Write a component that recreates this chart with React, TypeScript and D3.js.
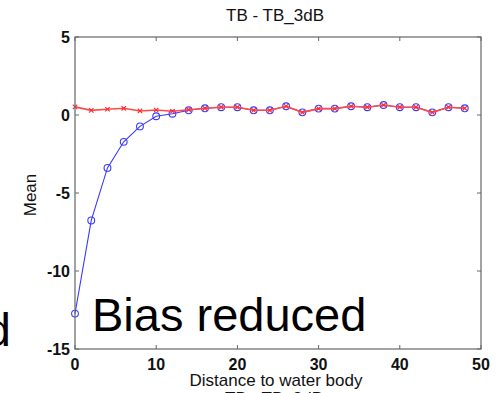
import React from "react";
import * as d3 from "d3";

const distances = [0, 2, 4, 6, 8, 10, 12, 14, 16, 18, 20, 22, 24, 26, 28, 30, 32, 34, 36, 38, 40, 42, 44, 46, 48];
const redMean = [0.52, 0.3, 0.37, 0.43, 0.26, 0.32, 0.24, 0.34, 0.43, 0.5, 0.5, 0.3, 0.3, 0.56, 0.17, 0.41, 0.41, 0.56, 0.5, 0.64, 0.5, 0.5, 0.17, 0.5, 0.43];
const blueMean = [-12.73, -6.76, -3.39, -1.72, -0.73, -0.08, 0.08, 0.3, 0.43, 0.5, 0.5, 0.3, 0.3, 0.56, 0.17, 0.41, 0.41, 0.56, 0.5, 0.64, 0.5, 0.5, 0.17, 0.5, 0.43];
const xTicks = [0, 10, 20, 30, 40, 50];
const yTicks = [5, 0, -5, -10, -15];

const W = 500;
const H = 393;
const left = 75, right = 481, top = 37, bottom = 349;

export default function App() {
  const x = d3.scaleLinear().domain([0, 50]).range([left, right]);
  const y = d3.scaleLinear().domain([-15, 5]).range([bottom, top]);
  const line = d3.line<number>().x((_, i) => x(distances[i])).y((v) => y(v));
  const font = "'Liberation Sans', Arial, Helvetica, sans-serif";
  const axisColor = "#666";
  const tickLen = 4;

  return (
    <svg width={W} height={H} style={{ position: "absolute", left: 0, top: 0, background: "#fff" }} fontFamily={font}>
      <rect x={0} y={0} width={W} height={H} fill="#fff" />
      {/* title */}
      <text x={275} y={21} textAnchor="middle" fontSize={17} fill="#111">TB - TB_3dB</text>

      {/* series: blue */}
      <path d={line(blueMean) || ""} fill="none" stroke="#3a3aff" strokeWidth={1.1} />
      {blueMean.map((v, i) => (
        <circle key={"b" + i} cx={x(distances[i])} cy={y(v)} r={3.4} fill="none" stroke="#3a3aff" strokeWidth={1.1} />
      ))}
      {/* series: red */}
      <path d={line(redMean) || ""} fill="none" stroke="#ff4a4a" strokeWidth={1.6} />
      {redMean.map((v, i) => {
        const cx = x(distances[i]);
        const cy = y(v);
        const s = 2.2;
        return (
          <path key={"r" + i} d={`M${cx - s},${cy - s}L${cx + s},${cy + s}M${cx - s},${cy + s}L${cx + s},${cy - s}`} stroke="#ff2a2a" strokeWidth={1.1} />
        );
      })}

      {/* frame */}
      <rect x={left} y={top} width={right - left} height={bottom - top} fill="none" stroke={axisColor} strokeWidth={1.2} />
      {xTicks.map((t) => (
        <g key={"xt" + t}>
          <line x1={x(t)} x2={x(t)} y1={bottom} y2={bottom - tickLen} stroke={axisColor} />
          <line x1={x(t)} x2={x(t)} y1={top} y2={top + tickLen} stroke={axisColor} />
          <text x={x(t)} y={370} textAnchor="middle" fontSize={16} fontWeight="bold" fill="#111">{t}</text>
        </g>
      ))}
      {yTicks.map((t) => (
        <g key={"yt" + t}>
          <line x1={left} x2={left + tickLen} y1={y(t)} y2={y(t)} stroke={axisColor} />
          <line x1={right} x2={right - tickLen} y1={y(t)} y2={y(t)} stroke={axisColor} />
          <text x={70} y={y(t) + 5.5} textAnchor="end" fontSize={16} fontWeight="bold" fill="#111">{t}</text>
        </g>
      ))}

      {/* axis labels */}
      <text x={276} y={386} textAnchor="middle" fontSize={17} fill="#111">Distance to water body</text>
      <text transform={`translate(36,195) rotate(-90)`} textAnchor="middle" fontSize={17} fill="#111">Mean</text>

      {/* overlay slide text */}
      <text x={92} y={331} fontSize={47} fill="#000">Bias reduced</text>
      <text x={11} y={346} textAnchor="end" fontSize={47} fill="#000">d</text>
      <text x={274} y={404} textAnchor="middle" fontSize={17} fill="#111">TB - TB_3dB</text>
    </svg>
  );
}
